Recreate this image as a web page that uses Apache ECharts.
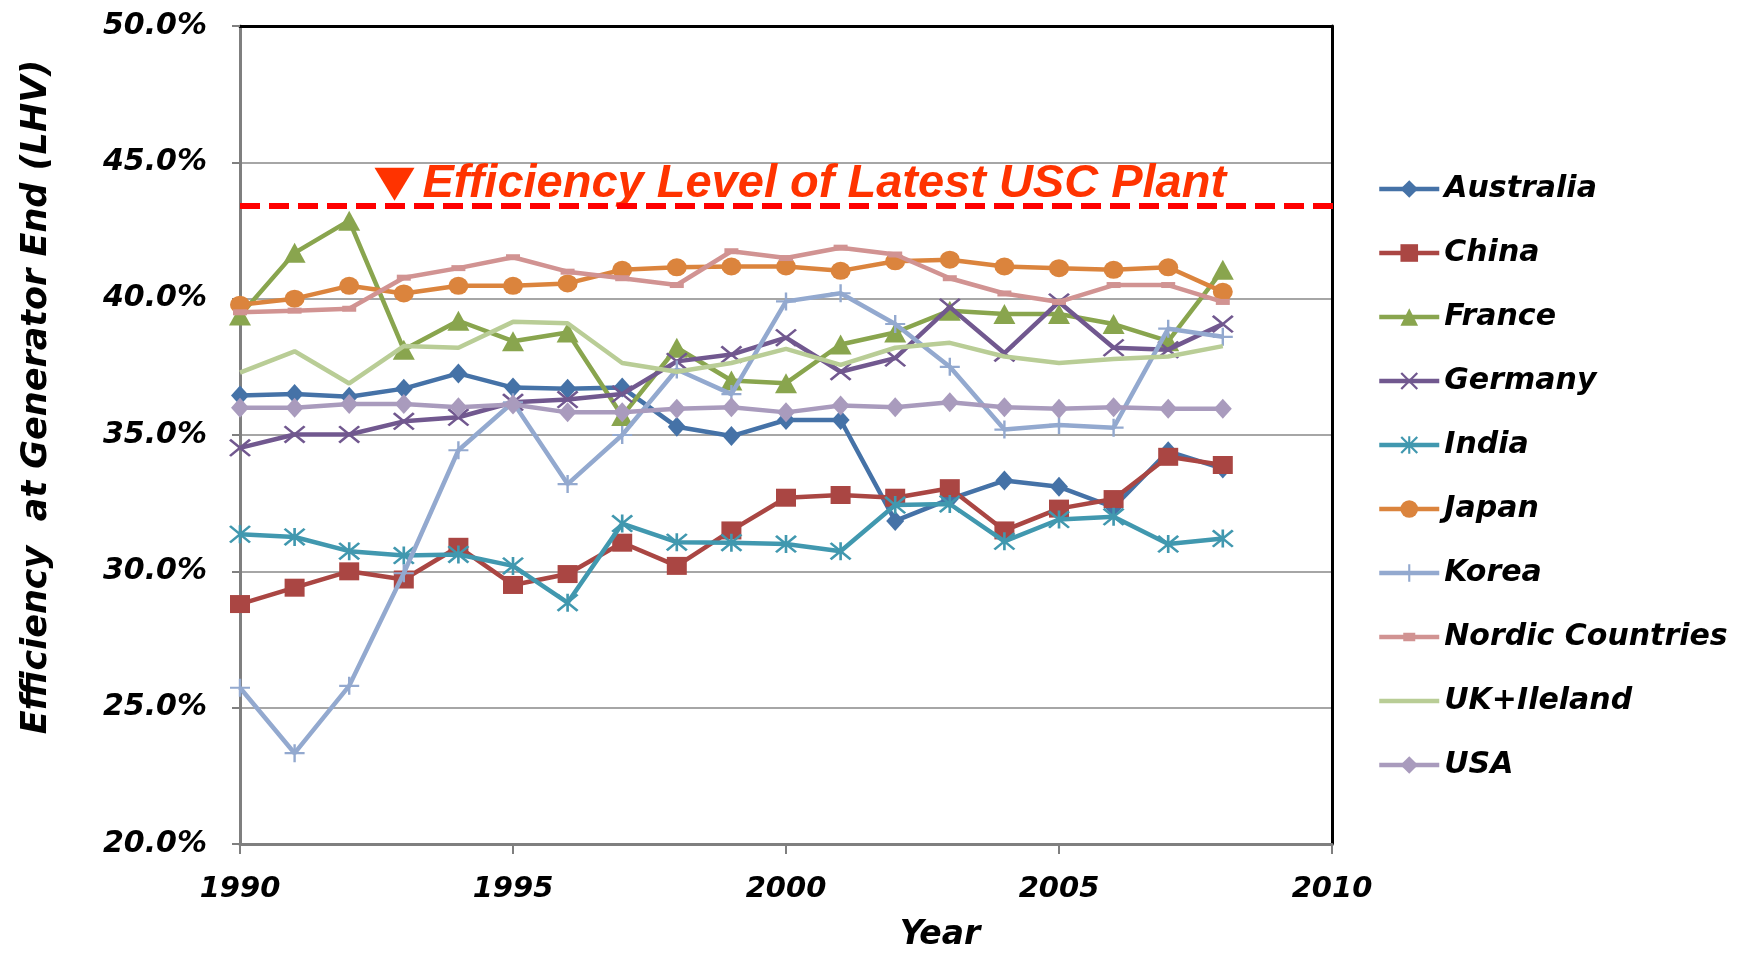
<!DOCTYPE html>
<html>
<head>
<meta charset="utf-8">
<script src="https://cdn.jsdelivr.net/npm/echarts@6/dist/echarts.min.js"></script>
<style>
  html, body { margin: 0; padding: 0; background: #ffffff; }
  #chart { width: 1748px; height: 957px; }
</style>
</head>
<body>
<div id="chart"></div>
<script>
// Gross thermal efficiency of coal-fired generation by country (LHV, %)
const years = [1990, 1991, 1992, 1993, 1994, 1995, 1996, 1997, 1998, 1999,
               2000, 2001, 2002, 2003, 2004, 2005, 2006, 2007, 2008];

const australia = [36.45, 36.5, 36.4, 36.7, 37.26, 36.74, 36.7, 36.74, 35.3, 34.96,
                   35.55, 35.55, 31.85, 32.65, 33.33, 33.1, 32.35, 34.4, 33.77];
const china     = [28.8, 29.4, 30.0, 29.7, 30.9, 29.5, 29.9, 31.05, 30.2, 31.5,
                   32.7, 32.8, 32.7, 33.05, 31.5, 32.3, 32.65, 34.2, 33.9];
const france    = [39.38, 41.68, 42.86, 38.13, 39.19, 38.44, 38.76, 35.7, 38.2, 37.0,
                   36.9, 38.32, 38.76, 39.56, 39.44, 39.44, 39.07, 38.44, 41.06];
const germany   = [34.53, 35.02, 35.02, 35.5, 35.65, 36.2, 36.3, 36.5, 37.7, 37.95,
                   38.57, 37.32, 37.82, 39.69, 38.0, 39.88, 38.2, 38.13, 39.07];
const india     = [31.36, 31.26, 30.74, 30.58, 30.62, 30.2, 28.85, 31.75, 31.07, 31.05,
                   31.0, 30.74, 32.43, 32.47, 31.1, 31.9, 32.0, 31.0, 31.2];
const japan     = [39.78, 40.0, 40.47, 40.19, 40.47, 40.47, 40.56, 41.06, 41.15, 41.18,
                   41.18, 41.02, 41.37, 41.43, 41.18, 41.12, 41.06, 41.15, 40.25];
const korea     = [25.73, 23.33, 25.8, 29.93, 34.44, 36.2, 33.2, 35.0, 37.4, 36.5,
                   39.9, 40.2, 39.07, 37.5, 35.2, 35.37, 35.27, 38.9, 38.6];
const nordic    = [39.5, 39.56, 39.63, 40.77, 41.12, 41.52, 40.99, 40.75, 40.5, 41.74,
                   41.49, 41.87, 41.62, 40.75, 40.19, 39.88, 40.5, 40.5, 39.88];
const ukIreland = [37.29, 38.07, 36.89, 38.26, 38.2, 39.15, 39.1, 37.64, 37.32, 37.64,
                   38.16, 37.57, 38.2, 38.38, 37.88, 37.64, 37.79, 37.88, 38.26];
const usa       = [36.0, 36.0, 36.14, 36.14, 36.02, 36.12, 35.83, 35.83, 35.96, 36.02,
                   35.83, 36.08, 36.02, 36.2, 36.02, 35.96, 36.02, 35.96, 35.96];

const seriesNames = ['Australia', 'China', 'France', 'Germany', 'India', 'Japan',
                     'Korea', 'Nordic Countries', 'UK+Ileland', 'USA'];

// Reference level: latest ultra-supercritical plant
const uscLevel = 43.4;
const uscSpan = [1990, 2010.12];
const uscNote = 'Efficiency Level of Latest USC Plant';
const uscNoteAnchor = [1992.83, 44.2];

// Axis ranges and ticks
const xMin = 1990, xMax = 2010, xStep = 5;
const yMin = 20, yMax = 50, yStep = 5;

// ---- styling ----
const SYM_X = 'path://M0,1.8L1.8,0L20,18.2L18.2,20ZM18.2,0L20,1.8L1.8,20L0,18.2Z';
const SYM_STAR = 'path://M0,1.8L1.8,0L20,18.2L18.2,20ZM18.2,0L20,1.8L1.8,20L0,18.2ZM8.8,0h2.4v20h-2.4Z';
const SYM_PLUS = 'path://M8.8,0h2.4v20h-2.4ZM0,8.8h20v2.4h-20Z';
const SYM_DOWN = 'path://M0,0L20,0L10,17Z';
const ICON_LINE = 'path://M0,0h60v4.5h-60Z';
const ICON_LINE_BAR = 'path://M0,2h60v4.5h-60ZM24,0h12v8.5h-12Z';

const styles = {
  'Australia':        { color: '#4572A7', symbol: 'diamond', size: [18, 20] },
  'China':            { color: '#AA4643', symbol: 'rect',    size: [20, 18] },
  'France':           { color: '#89A54E', symbol: 'triangle', size: [22, 20] },
  'Germany':          { color: '#71588F', symbol: SYM_X,     size: [22, 18] },
  'India':            { color: '#4198AF', symbol: SYM_STAR,  size: [22, 18] },
  'Japan':            { color: '#DB843D', symbol: 'circle',  size: [20, 18] },
  'Korea':            { color: '#93A9CF', symbol: SYM_PLUS,  size: [20, 18] },
  'Nordic Countries': { color: '#D19392', symbol: 'rect',    size: [14, 6] },
  'UK+Ileland':       { color: '#B9CD96', symbol: 'none',    size: 0 },
  'USA':              { color: '#A99BBD', symbol: 'diamond', size: [18, 20] }
};
const legendIcons = { 'Nordic Countries': ICON_LINE_BAR, 'UK+Ileland': ICON_LINE };

const seriesValues = [australia, china, france, germany, india, japan,
                      korea, nordic, ukIreland, usa];

const boldItalic = (family, size, color) => ({
  fontFamily: family, fontWeight: 'bold', fontStyle: 'italic',
  fontSize: size, color: color || '#000'
});

const lineSeries = seriesNames.map((name, i) => {
  const st = styles[name];
  return {
    name: name,
    type: 'line',
    data: years.map((y, k) => [y, seriesValues[i][k]]),
    color: st.color,
    symbol: st.symbol,
    symbolSize: st.size,
    showSymbol: st.symbol !== 'none',
    lineStyle: { width: 4.5, color: st.color },
    itemStyle: { color: st.color },
    emphasis: { disabled: true },
    silent: true,
    z: 3 + i
  };
});

// Dashed USC reference line, with its note anchored in data space
const refSeries = {
  name: 'USC level',
  type: 'line',
  data: uscSpan.map(x => [x, uscLevel]),
  clip: false,
  silent: true,
  symbol: 'none',
  showSymbol: false,
  z: 20,
  lineStyle: { color: '#FF0000', width: 6, type: [20, 9] },
  emphasis: { disabled: true },
  markPoint: {
    silent: true,
    animation: false,
    data: [{
      coord: uscNoteAnchor,
      symbol: SYM_DOWN,
      symbolSize: [40, 33],
      itemStyle: { color: '#FF3300' },
      label: Object.assign({
        show: true,
        position: 'right',
        distance: 8,
        formatter: uscNote
      }, boldItalic('Liberation Sans', 47, '#FF3300'))
    }]
  }
};

const chart = echarts.init(document.getElementById('chart'), null, { renderer: 'canvas' });

chart.setOption({
  backgroundColor: '#ffffff',
  animation: false,
  grid: { left: 240, right: 416, top: 26, bottom: 112, containLabel: false },
  legend: {
    orient: 'vertical',
    left: 1372,
    top: 169,
    itemWidth: 60,
    itemHeight: 22,
    itemGap: 34,
    selectedMode: false,
    lineStyle: { width: 4.5 },
    data: seriesNames.map(n => legendIcons[n] ? { name: n, icon: legendIcons[n] } : { name: n }),
    textStyle: Object.assign({ lineHeight: 30 }, boldItalic('DejaVu Sans', 30))
  },
  xAxis: [{
    type: 'value',
    min: xMin, max: xMax, interval: xStep,
    position: 'bottom',
    name: 'Year',
    nameLocation: 'middle',
    nameGap: 75,
    nameTextStyle: Object.assign({ padding: [0, 0, 0, 308] }, boldItalic('DejaVu Sans', 33)),
    axisLine: { show: true, onZero: false, lineStyle: { color: '#7F7F7F', width: 3 } },
    axisTick: { show: true, inside: false, length: 10, lineStyle: { color: '#7F7F7F', width: 2 } },
    axisLabel: Object.assign({ margin: 31, formatter: v => String(v) }, boldItalic('DejaVu Sans', 29)),
    splitLine: { show: false }
  }, {
    type: 'value',
    min: xMin, max: xMax,
    position: 'top',
    axisLine: { show: true, onZero: false, lineStyle: { color: '#000000', width: 3 } },
    axisTick: { show: false },
    axisLabel: { show: false },
    splitLine: { show: false }
  }],
  yAxis: [{
    type: 'value',
    min: yMin, max: yMax, interval: yStep,
    position: 'left',
    name: 'Efficiency  at Generator End (LHV)',
    nameLocation: 'middle',
    nameRotate: 90,
    nameGap: 186,
    nameTextStyle: Object.assign({ padding: [0, 0, 0, 76] }, boldItalic('DejaVu Sans', 35)),
    axisLine: { show: true, onZero: false, lineStyle: { color: '#7F7F7F', width: 3 } },
    axisTick: { show: true, inside: false, length: 8, lineStyle: { color: '#7F7F7F', width: 2 } },
    axisLabel: Object.assign({ margin: 33, formatter: v => v.toFixed(1) + '%' }, boldItalic('DejaVu Sans', 30)),
    splitLine: { show: true, showMinLine: false, showMaxLine: false, lineStyle: { color: '#A6A6A6', width: 2 } }
  }, {
    type: 'value',
    min: yMin, max: yMax,
    position: 'right',
    axisLine: { show: true, onZero: false, lineStyle: { color: '#000000', width: 3 } },
    axisTick: { show: false },
    axisLabel: { show: false },
    splitLine: { show: false }
  }],
  series: lineSeries.concat([refSeries])
});
</script>
</body>
</html>
